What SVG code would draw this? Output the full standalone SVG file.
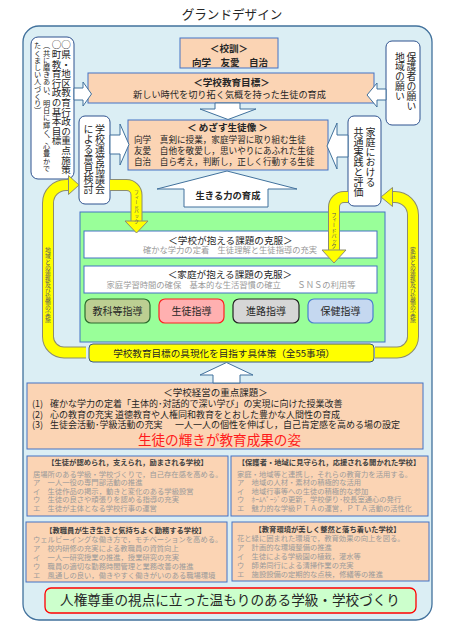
<svg xmlns="http://www.w3.org/2000/svg" width="457" height="627" viewBox="0 0 457 627">
<style>
text{font-family:"Noto Sans CJK JP","Noto Sans",sans-serif;fill:#262626}
.c{text-anchor:middle}
.bd{font-weight:bold}
.v{writing-mode:vertical-rl}
.peach{fill:#fbd4b4;stroke:#4472c4;stroke-width:1}
.wbox{fill:#fff;stroke:#2f528f;stroke-width:1}
.warr{fill:#fff;stroke:#41719c;stroke-width:1}
.gray{fill:#9a9a9a}
.bando{fill:none;stroke:#8c8c70;stroke-width:12}
.bandi{fill:none;stroke:#ffff00;stroke-width:10}
.ahead{fill:#ffff00;stroke:#8c8c70;stroke-width:1}
.btxt{fill:#5a5a5a}
</style>

<text x="232" y="19" class="c" font-size="12.6">グランドデザイン</text>

<g id="frame">
<rect x="23" y="26" width="409" height="594" rx="16" fill="#dbeef4" stroke="#41719c" stroke-width="1.3"/>
</g>

<g id="prefecture-goals">
<rect class="wbox" x="31" y="37" width="43" height="142" rx="7"/>
<text class="v" x="66" y="40" font-size="9.6">○県・地区教育行政の重点施策</text>
<text class="v" x="56.5" y="40" font-size="9.6">○町教育行政の基本目標</text>
<text class="v" x="46.5" y="42" font-size="7.2">（共に磨きあい、明日に輝く、心豊かで</text>
<text class="v" x="37.5" y="42" font-size="7.2">たくましい人づくり）</text>
</g>

<g id="school-council">
<rect class="wbox" x="79" y="116" width="31" height="88" rx="6"/>
<text class="v" x="100" y="124" font-size="10">学校運営協議会</text>
<text class="v" x="88.5" y="124" font-size="10">による意見検討</text>
</g>

<g id="parents-wish">
<rect class="wbox" x="386" y="41" width="34" height="84" rx="6"/>
<text class="v" x="411.5" y="52" font-size="9.8">保護者の願い</text>
<text class="v" x="400" y="52" font-size="9.8">地域の願い</text>
</g>

<g id="home-practice">
<rect class="wbox" x="348" y="116" width="33" height="90" rx="6"/>
<text class="v" x="370.5" y="127" font-size="10">家庭における</text>
<text class="v" x="358.5" y="127" font-size="10">共通実践と評価</text>
</g>

<g id="motto">
<rect class="peach" x="180" y="38" width="98" height="30"/>
<text x="229" y="51.6" class="c bd" font-size="9.6">＜校訓＞</text>
<text x="230" y="65.6" class="c bd" font-size="9.5">向学　友愛　自治</text>
</g>

<g id="school-goal">
<rect class="peach" x="88" y="73" width="286" height="30"/>
<text x="231.5" y="85.6" class="c bd" font-size="9.6">＜学校教育目標＞</text>
<text x="229.5" y="97.5" class="c" font-size="9.2">新しい時代を切り拓く気概を持った生徒の育成</text>
</g>

<g id="ideal-student">
<rect class="peach" x="128" y="120" width="200" height="50"/>
<text x="227.5" y="130.5" class="c bd" font-size="9.6">＜ めざす生徒像 ＞</text>
<text x="134" y="143.3" font-size="8.6">向学　真剣に授業，家庭学習に取り組む生徒</text>
<text x="134" y="154" font-size="8.6">友愛　自他を敬愛し，思いやりにあふれた生徒</text>
<text x="134" y="165" font-size="8.6">自治　自ら考え，判断し，正しく行動する生徒</text>
</g>

<g id="practice-area">
<rect x="80" y="212" width="305" height="130" fill="#99ff99" stroke="#4472c4" stroke-width="1"/>
</g>

<g id="school-issues">
<rect x="84" y="231" width="293" height="27" fill="#fff" stroke="#4472c4" stroke-width="1"/>
<text x="230.5" y="243.6" class="c" font-size="9.6">＜学校が抱える課題の克服＞</text>
<text x="230" y="253.4" class="c gray" font-size="8.3">確かな学力の定着　生徒理解と生徒指導の充実</text>
</g>

<g id="home-issues">
<rect x="84" y="266" width="293" height="27" fill="#fff" stroke="#4472c4" stroke-width="1"/>
<text x="230" y="278" class="c" font-size="9.6">＜家庭が抱える課題の克服＞</text>
<text x="231" y="288.4" class="c gray" font-size="8.3">家庭学習時間の確保　基本的な生活習慣の確立　　ＳＮＳの利用等</text>
</g>

<g id="subject-guidance">
<rect x="85" y="299" width="65" height="24" rx="6" fill="#bccf92" stroke="#2e6b2e" stroke-width="1.2"/>
<text x="117.5" y="314.8" class="c" font-size="10">教科等指導</text>
</g>
<g id="student-guidance">
<rect x="159" y="299" width="65" height="24" rx="6" fill="#ffb0b0" stroke="#ff2020" stroke-width="1.2"/>
<text x="191.5" y="314.8" class="c" font-size="10">生徒指導</text>
</g>
<g id="career-guidance">
<rect x="233" y="299" width="66" height="24" rx="6" fill="#d6d6d6" stroke="#222" stroke-width="1.2"/>
<text x="266" y="314.8" class="c" font-size="10">進路指導</text>
</g>
<g id="health-guidance">
<rect x="308" y="299" width="65" height="24" rx="6" fill="#c5d8f0" stroke="#4a7fd0" stroke-width="1.2"/>
<text x="340.5" y="314.8" class="c" font-size="10">保健指導</text>
</g>

<g id="measures-bar">
<rect x="89" y="344" width="285" height="18" rx="4" fill="#ffff00" stroke="#3a5a80" stroke-width="1"/>
<text x="224" y="356.5" class="c" font-size="9.6">学校教育目標の具現化を目指す具体策（全55事項）</text>
</g>

<g id="management-issues">
<rect class="peach" x="27" y="383" width="396" height="66"/>
<text x="215.5" y="396.3" class="c" font-size="9.5">＜学校経営の重点課題＞</text>
<text x="32" y="407.4" font-size="9">(1)</text>
<text x="50" y="407.4" font-size="9">確かな学力の定着「主体的･対話的で深い学び」の実現に向けた授業改善</text>
<text x="32" y="417.7" font-size="9">(2)</text>
<text x="50" y="417.7" font-size="9">心の教育の充実  道徳教育や人権同和教育をとおした豊かな人間性の育成</text>
<text x="32" y="428.4" font-size="9">(3)</text>
<text x="50" y="428.4" font-size="9">生徒会活動･学級活動の充実</text>
<text x="175" y="428.4" font-size="9">一人一人の個性を伸ばし，自己肯定感を高める場の設定</text>
<text x="219.5" y="445" class="c" font-size="13.6" style="fill:#ff1a1a">生徒の輝きが教育成果の姿</text>
</g>

<g id="recognized-school">
<rect class="peach" x="27" y="456" width="201" height="60"/>
<text x="127.5" y="465.3" class="c bd" font-size="7.3" style="fill:#404040">【生徒が認められ，支えられ，励まされる学校】</text>
<text x="33" y="476.8" class="gray" font-size="7.3">居場所のある学級・学校づくりで，自己存在感を高める。</text>
<text x="33" y="485.1" class="gray" font-size="7.3">ア　一人一役の専門部活動の推進</text>
<text x="33" y="493.5" class="gray" font-size="7.3">イ　生徒作品の掲示，動きと変化のある学級設営</text>
<text x="33" y="501.8" class="gray" font-size="7.3">ウ　生徒の良さや頑張りを認める指導の充実</text>
<text x="33" y="510.5" class="gray" font-size="7.3">エ　生徒が主体となる学校行事の運営</text>
</g>

<g id="open-school">
<rect class="peach" x="231" y="456" width="197" height="60"/>
<text x="329" y="465.3" class="c bd" font-size="7.3" style="fill:#404040">【保護者・地域に見守られ，応援される開かれた学校】</text>
<text x="237" y="476.8" class="gray" font-size="7.3">家庭・地域等と連携し，それらの教育力を活用する。</text>
<text x="237" y="485.1" class="gray" font-size="7.3">ア　地域の人材・素材の積極的な活用</text>
<text x="237" y="493.5" class="gray" font-size="7.3">イ　地域行事等への生徒の積極的な参加</text>
<text x="237" y="501.8" class="gray" font-size="7.3">ウ　ﾎｰﾑﾍﾟｰｼﾞの更新，学校便り･校長室通心の発行</text>
<text x="237" y="510.5" class="gray" font-size="7.3">エ　魅力的な学級ＰＴＡの運営，ＰＴＡ活動の活性化</text>
</g>

<g id="staff-school">
<rect class="peach" x="26" y="522" width="201" height="60"/>
<text x="125.5" y="532.6" class="c bd" font-size="7.3" style="fill:#404040">【教職員が生き生きと気持ちよく勤務する学校】</text>
<text x="33" y="541.5" class="gray" font-size="7.3">ウェルビーイングな働き方で，モチベーションを高める。</text>
<text x="33" y="550.5" class="gray" font-size="7.3">ア　校内研修の充実による教職員の資質向上</text>
<text x="33" y="559.5" class="gray" font-size="7.3">イ　一人一研究授業の推進，授業研究の充実</text>
<text x="33" y="568.5" class="gray" font-size="7.3">ウ　職員の適切な勤務時間管理と業務改善の推進</text>
<text x="33" y="577.5" class="gray" font-size="7.3">エ　風通しの良い，働きやすく働きがいのある職場環境</text>
</g>

<g id="environment-school">
<rect class="peach" x="232" y="522" width="197" height="59"/>
<text x="327.5" y="532" class="c bd" font-size="7.3" style="fill:#404040">【教育環境が美しく整然と落ち着いた学校】</text>
<text x="237" y="541" class="gray" font-size="7.3">花と緑に囲まれた環境で，教育効果の向上を図る。</text>
<text x="237" y="550" class="gray" font-size="7.3">ア　計画的な環境整備の推進</text>
<text x="237" y="559" class="gray" font-size="7.3">イ　生徒による学級園の植栽，灌水等</text>
<text x="237" y="568" class="gray" font-size="7.3">ウ　師弟同行による清掃作業の充実</text>
<text x="237" y="577" class="gray" font-size="7.3">エ　施設設備の定期的な点検，修繕等の推進</text>
</g>

<g id="human-rights-banner">
<rect x="45" y="588" width="371" height="25" rx="6" fill="#ccffcc" stroke="#ff0000" stroke-width="1.3"/>
<text x="230" y="605.2" class="c" font-size="13.6">人権尊重の視点に立った温もりのある学級・学校づくり</text>
</g>

<g id="connectors">
<!-- left loop: community collaboration -->
<path class="bando" d="M86 352.5 L64 352.5 A16 16 0 0 1 48 336.5 L48 203 A18 18 0 0 1 66 185 L69 185"/>
<path class="bandi" d="M86 352.5 L64 352.5 A16 16 0 0 1 48 336.5 L48 203 A18 18 0 0 1 66 185 L69 185"/>
<polygon class="ahead" points="68.5,175.5 68.5,194.5 79,185"/>
<text class="v btxt" x="48" y="247" font-size="5.8">地域との連携及び協働の実施</text>
<path class="bando" d="M110 185 L126.5 185 A10 10 0 0 1 136.5 195 L136.5 221"/>
<path class="bandi" d="M110 185 L126.5 185 A10 10 0 0 1 136.5 195 L136.5 221"/>
<polygon class="ahead" points="125,221 148,221 136.5,233"/>
<text class="v btxt" x="136.5" y="190" font-size="4.8">フィードバック</text>

<!-- right loop: home collaboration -->
<path class="bando" d="M375 352.5 L397 352.5 A16 16 0 0 0 413 336.5 L413 215 A18 18 0 0 0 395 197 L392 197"/>
<path class="bandi" d="M375 352.5 L397 352.5 A16 16 0 0 0 413 336.5 L413 215 A18 18 0 0 0 395 197 L392 197"/>
<polygon class="ahead" points="392.5,187.5 392.5,206.5 381,197"/>
<text class="v btxt" x="413" y="247" font-size="5.8">家庭との連携及び協働の実施</text>
<path class="bando" d="M348 197 L344 197 A10 10 0 0 0 334 207 L334 250"/>
<path class="bandi" d="M348 197 L344 197 A10 10 0 0 0 334 207 L334 250"/>
<polygon class="ahead" points="322,250 346,250 334,263"/>
<text class="v btxt" x="334" y="212" font-size="5.3">フィードバック</text>

<!-- white block arrows -->
<polygon class="warr" points="74,88 83,88 83,82 91.5,94 83,106 83,100 74,100"/>
<polygon class="warr" points="110,135 120,135 120,124 129,144.5 120,165 120,154 110,154"/>
<polygon class="warr" points="386,89 377,89 377,83 367,95 377,107 377,100 386,100"/>
<polygon class="warr" points="348,135 337,135 337,123 327,146 337,169 337,157 348,157"/>
<polygon class="warr" points="215,103 240,103 240,109 256,109 228,119.5 200,109 215,109"/>
<polygon class="warr" points="184,207 268,207 268,189 297,189 227,171 157,189 184,189"/>
<text x="228" y="199" class="c bd" font-size="9.3">生きる力の育成</text>
<polygon class="warr" points="213,383 240,383 240,375 253,375 226.5,362.5 200,375 213,375"/>
</g>
</svg>
